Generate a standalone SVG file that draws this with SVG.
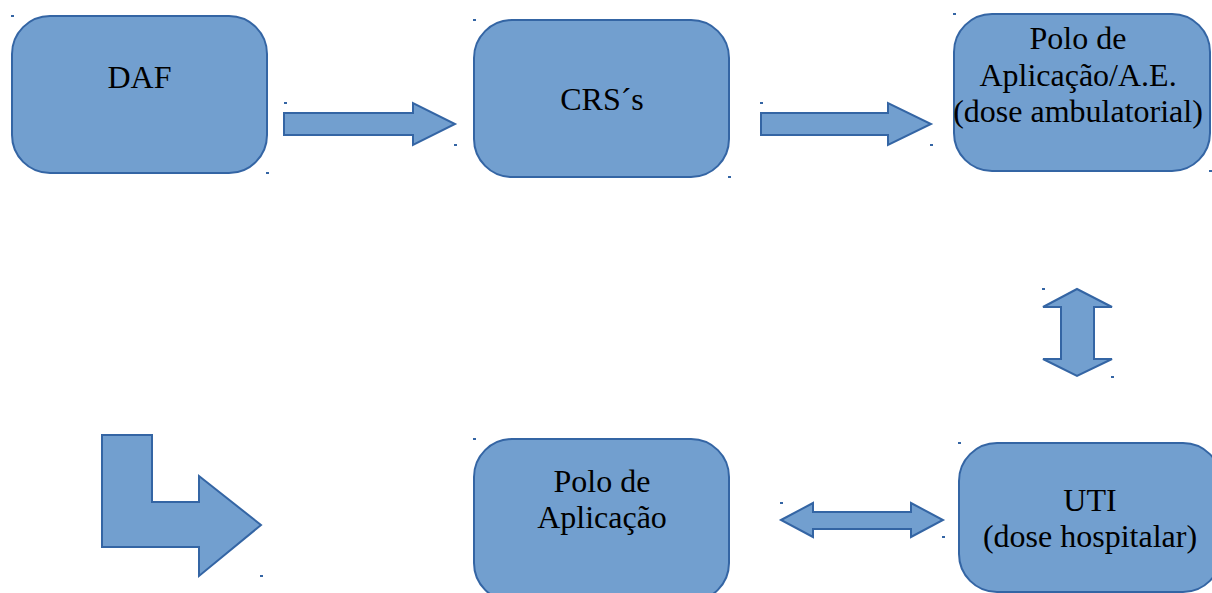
<svg xmlns="http://www.w3.org/2000/svg" width="1212" height="593" viewBox="0 0 1212 593">
<style>
.box{fill:#729fcf;stroke:#3465a4;stroke-width:2}
.arr{fill:#729fcf;stroke:#3465a4;stroke-width:2;stroke-linejoin:miter}
.t{font-family:"Liberation Serif","Times New Roman",serif;font-size:32px;fill:#000;text-anchor:middle}
.h{fill:#3465a4}
</style>
<rect width="1212" height="593" fill="#fff"/>
<g id="daf">
<rect class="box" x="12" y="16" width="255" height="157" rx="38"/>
<text class="t" x="139.5" y="88">DAF</text>
<rect class="h" x="11" y="15" width="3" height="2"/><rect class="h" x="266" y="172" width="3" height="2"/>
</g>
<g id="crs">
<rect class="box" x="474" y="20" width="255" height="157" rx="38"/>
<text class="t" x="602" y="110">CRS´s</text>
<rect class="h" x="473" y="19" width="3" height="2"/><rect class="h" x="728" y="176" width="3" height="2"/>
</g>
<g id="polo-ae">
<rect class="box" x="954" y="14" width="256" height="157" rx="38"/>
<text class="t" x="1078" y="49">Polo de</text>
<text class="t" x="1078" y="86">Aplicação/A.E.</text>
<text class="t" x="1078" y="122">(dose ambulatorial)</text>
<rect class="h" x="953" y="13" width="3" height="2"/><rect class="h" x="1209" y="170" width="3" height="2"/>
</g>
<g id="uti">
<rect class="box" x="959" y="443" width="262" height="149" rx="38"/>
<text class="t" x="1090" y="511">UTI</text>
<text class="t" x="1090" y="547">(dose hospitalar)</text>
<rect class="h" x="958" y="442" width="3" height="2"/>
</g>
<g id="polo">
<rect class="box" x="474" y="439" width="255" height="162" rx="38"/>
<text class="t" x="602" y="492">Polo de</text>
<text class="t" x="602" y="528">Aplicação</text>
<rect class="h" x="473" y="438" width="3" height="2"/>
</g>
<g id="connectors">
<polygon class="arr" points="284,113 413,113 413,103 455,124 413,145 413,135 284,135"/>
<rect class="h" x="284" y="102" width="3" height="2"/><rect class="h" x="454" y="144" width="3" height="2"/>
<polygon class="arr" points="761,113 888,113 888,103 931,124 888,145 888,135 761,135"/>
<rect class="h" x="760" y="102" width="3" height="2"/><rect class="h" x="930" y="144" width="3" height="2"/>
<polygon class="arr" points="1077,289 1112,307 1094,307 1094,359 1112,359 1077,376 1043,359 1061,359 1061,307 1043,307"/>
<rect class="h" x="1042" y="288" width="3" height="2"/><rect class="h" x="1111" y="376" width="3" height="2"/>
<polygon class="arr" points="781,520 813,503 813,512 911,512 911,503 943,520 911,537 911,529 813,529 813,537"/>
<rect class="h" x="780" y="502" width="3" height="2"/><rect class="h" x="942" y="536" width="3" height="2"/>
<polygon class="arr" points="102,435 152,435 152,502 199,502 199,476 261,525 199,576 199,547 102,547"/>
<rect class="h" x="260" y="575" width="3" height="2"/>
</g>
</svg>
